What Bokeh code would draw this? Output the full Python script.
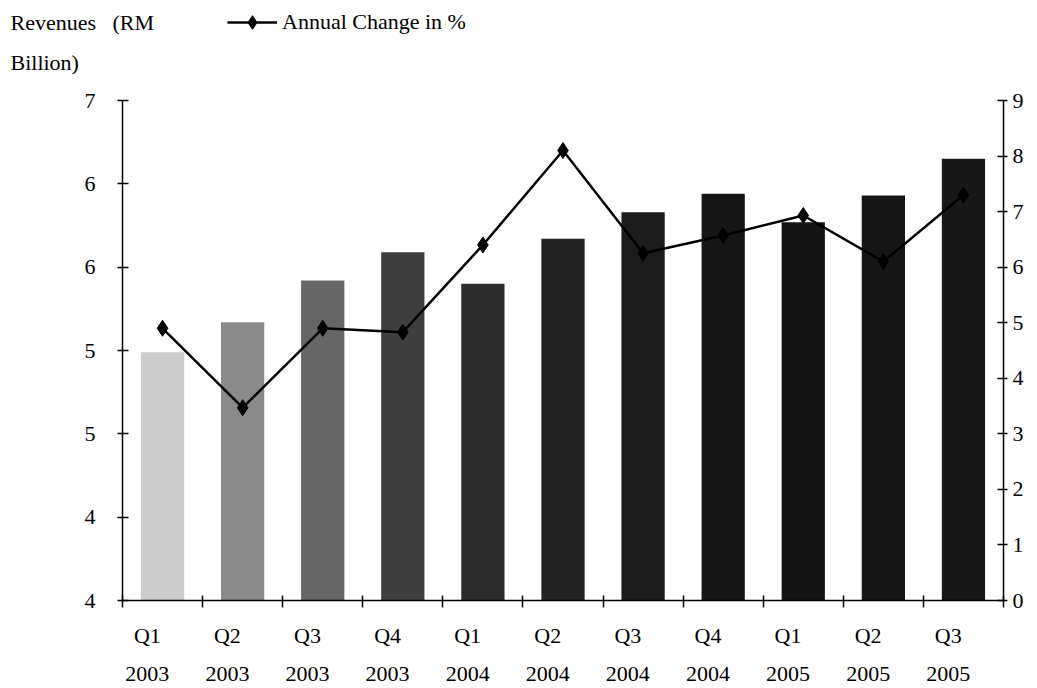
from bokeh.plotting import figure
from bokeh.models import (Range1d, LinearAxis, FixedTicker, ColumnDataSource,
                          Label, Legend, LegendItem)
from bokeh.layouts import column
from bokeh.embed import file_html
from bokeh.resources import INLINE

# ---- data ----
quarters = ["Q1", "Q2", "Q3", "Q4", "Q1", "Q2", "Q3", "Q4", "Q1", "Q2", "Q3"]
years = ["2003", "2003", "2003", "2003", "2004", "2004", "2004", "2004", "2005", "2005", "2005"]
revenues = [5.49, 5.67, 5.92, 6.09, 5.90, 6.17, 6.33, 6.44, 6.27, 6.43, 6.65]
annual_change = [4.9, 3.47, 4.9, 4.83, 6.4, 8.1, 6.25, 6.57, 6.93, 6.1, 7.3]
left_ticks = [4, 4.5, 5, 5.5, 6, 6.5, 7]
left_tick_labels = ["4", "4", "5", "5", "6", "6", "7"]
right_ticks = [0, 1, 2, 3, 4, 5, 6, 7, 8, 9]
y_title_lines = ["Revenues\u00a0\u00a0\u00a0(RM", "Billion)"]
series_name = "Annual Change in %"

# ---- style ----
bar_colors = ["#cdcdcd", "#8a8a8a", "#666666", "#3e3e3e", "#2c2c2c", "#222222",
              "#1c1c1c", "#161616", "#141414", "#161616", "#181818"]
FONT = "Liberation Serif"
FS = "22px"

n = len(quarters)
xs = [i + 0.5 for i in range(n)]
label_shift = 0.19  # labels sit a bit left of bar centres
src = ColumnDataSource(dict(x=xs, rev=revenues, pct=annual_change, color=bar_colors))

# ---------------- header figure (axis title + legend) ----------------
top = figure(width=1037, height=80, output_backend="svg", toolbar_location=None,
             x_range=Range1d(0, 1037), y_range=Range1d(0, 80),
             min_border=0, x_axis_location=None, y_axis_location=None)
top.frame_align = False
top.outline_line_color = None
top.xgrid.visible = False
top.ygrid.visible = False
for txt, yy in zip(y_title_lines, (58, 18)):
    top.add_layout(Label(x=10, y=yy, x_units="screen", y_units="screen", text=txt,
                         text_font=FONT, text_font_size=FS, text_baseline="middle",
                         text_color="black"))
# off-screen proxies so the legend can show the line+diamond symbol
dl = top.line(x=[-500, -400], y=[-500, -500], line_color="black", line_width=2.5)
ds = top.scatter(x=[-500], y=[-500], marker="diamond", size=16, fill_color="black",
                 line_color="black")
leg = Legend(items=[LegendItem(label=series_name, renderers=[dl, ds])],
             location=(227, 41), orientation="horizontal",
             glyph_width=50, glyph_height=34, label_height=34, label_standoff=5,
             padding=0, margin=0, spacing=0, border_line_color=None,
             background_fill_alpha=0, label_text_font=FONT,
             label_text_font_size=FS, label_text_color="black")
top.add_layout(leg, "center")

# ---------------- main chart ----------------
p = figure(width=1037, height=608, output_backend="svg", toolbar_location=None,
           x_range=Range1d(0, n), y_range=Range1d(4, 7),
           min_border_left=122, min_border_right=34, min_border_top=20,
           min_border_bottom=88, x_axis_location=None, y_axis_location=None)
p.frame_align = False
p.outline_line_color = None
p.xgrid.visible = False
p.ygrid.visible = False
p.extra_y_ranges = {"pct": Range1d(0, 9)}

p.vbar(x="x", top="rev", bottom=4, width=0.54, source=src,
       fill_color="color", line_color=None)
p.line(x="x", y="pct", source=src, y_range_name="pct",
       line_color="black", line_width=2.5)
p.scatter(x="x", y="pct", source=src, y_range_name="pct", marker="diamond",
          size=16, fill_color="black", line_color="black")


def style_axis(ax):
    ax.minor_tick_line_color = None
    ax.axis_line_width = 1.5
    ax.major_tick_line_width = 1.5
    ax.major_label_text_font = FONT
    ax.major_label_text_font_size = FS
    ax.major_label_text_color = "black"


la = LinearAxis(ticker=FixedTicker(ticks=left_ticks))
style_axis(la)
la.major_label_overrides = {t: s for t, s in zip(left_ticks, left_tick_labels)}
la.major_tick_in = 6
la.major_tick_out = 5
la.major_label_standoff = 22
p.add_layout(la, "left")

ra = LinearAxis(y_range_name="pct", ticker=FixedTicker(ticks=right_ticks))
style_axis(ra)
ra.major_tick_in = 6
ra.major_tick_out = 4
ra.major_label_standoff = 5
p.add_layout(ra, "right")

# bottom axis: category boundary ticks only
bounds_ticks = list(range(n + 1))
ba = LinearAxis(ticker=FixedTicker(ticks=bounds_ticks))
style_axis(ba)
ba.major_label_overrides = {t: "" for t in bounds_ticks}
ba.major_label_text_font_size = "1px"
ba.major_label_standoff = 0
ba.major_tick_in = 5
ba.major_tick_out = 7
p.add_layout(ba, "below")

# quarter and year label rows
for labels, standoff in ((quarters, 15), (years, 16)):
    pos = [x - label_shift for x in xs]
    ax = LinearAxis(ticker=FixedTicker(ticks=pos))
    style_axis(ax)
    ax.major_label_overrides = {t: s for t, s in zip(pos, labels)}
    ax.axis_line_color = None
    ax.major_tick_line_color = None
    ax.major_tick_out = 0
    ax.major_tick_in = 0
    ax.major_label_standoff = standoff
    p.add_layout(ax, "below")

layout = column(top, p, spacing=0)
open("out.html", "w").write(file_html(layout, INLINE))
